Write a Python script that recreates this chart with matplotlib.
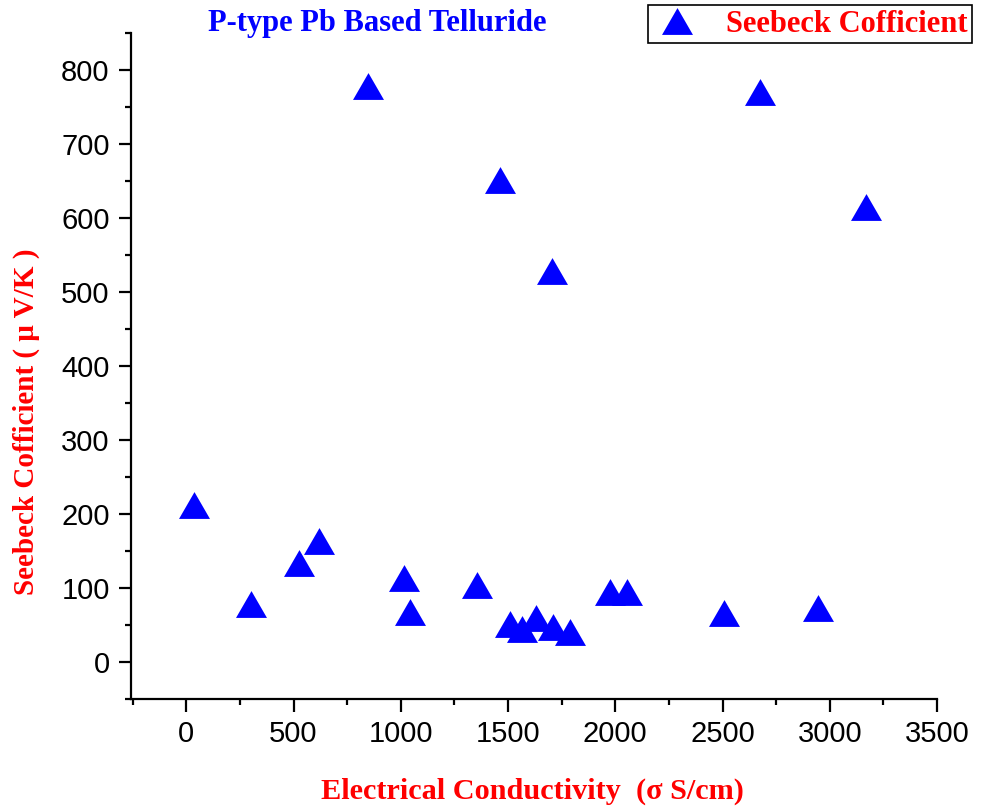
import numpy as np
import matplotlib
matplotlib.use('Agg')
import matplotlib.pyplot as plt
from matplotlib.ticker import MultipleLocator

# electrical conductivity (S/cm) and Seebeck coefficient (uV/K)
sigma = [37, 303, 525, 621, 847, 1014, 1041, 1356, 1463, 1511, 1566, 1629,
         1707, 1712, 1788, 1976, 2053, 2508, 2675, 2945, 3167]
seebeck = [212, 78, 134, 164, 779, 114, 68, 104, 652, 51, 45, 60,
           529, 47, 40, 95, 95, 66, 770, 73, 615]

x_ticks = [0, 500, 1000, 1500, 2000, 2500, 3000, 3500]
y_ticks = [0, 100, 200, 300, 400, 500, 600, 700, 800]

W, H = 987, 810
fig = plt.figure(figsize=(W / 100, H / 100), dpi=100)
ax = fig.add_axes([130.5 / W, 1 - 699 / H, (937 - 130.5) / W, (699 - 33) / H])

# equilateral triangle, like the Origin marker
tri = [(-1, -0.866), (1, -0.866), (0, 0.866), (-1, -0.866)]
ax.plot(sigma, seebeck, linestyle='none', marker=tri, markersize=22.3,
        color='#0000ff', markeredgewidth=0, label='Seebeck Cofficient')

ax.set_xlim(-260, 3500)
ax.set_ylim(-50, 850)
ax.set_xticks(x_ticks)
ax.set_yticks(y_ticks)
ax.xaxis.set_minor_locator(MultipleLocator(250))
ax.yaxis.set_minor_locator(MultipleLocator(50))

for s in ['top', 'right']:
    ax.spines[s].set_visible(False)
for s in ['left', 'bottom']:
    ax.spines[s].set_linewidth(1.6)

ax.tick_params(which='major', direction='out', length=9, width=1.6,
               labelsize=21, pad=6)
ax.tick_params(which='minor', direction='out', length=4.5, width=1.6)
for lab in ax.get_xticklabels() + ax.get_yticklabels():
    lab.set_fontfamily('Liberation Sans')

serif_b = dict(family='Liberation Serif', weight='bold')

fig.text(532 / W, 1 - 791 / H, 'Electrical Conductivity  (\u03c3 S/cm)',
         color='red', fontsize=21.8, ha='center', va='center', **serif_b)
fig.text(26 / W, 1 - 422 / H, 'Seebeck Cofficient ( \u03bc V/K )',
         color='red', fontsize=21, ha='center', va='center', rotation=90, **serif_b)
fig.text(377 / W, 1 - 23 / H, 'P-type Pb Based Telluride',
         color='#0000ff', fontsize=22, ha='center', va='center', **serif_b)

leg = fig.legend(loc='upper right', bbox_to_anchor=(972 / W, 1 - 5 / H),
                 borderaxespad=0, fancybox=False, edgecolor='black',
                 prop=dict(family='Liberation Serif', weight='bold', size=22),
                 handlelength=1.6, handletextpad=0.8, borderpad=0.15,
                 framealpha=1)
leg.get_frame().set_linewidth(1.2)
for t in leg.get_texts():
    t.set_color('red')

fig.savefig('out.png', dpi=100)
